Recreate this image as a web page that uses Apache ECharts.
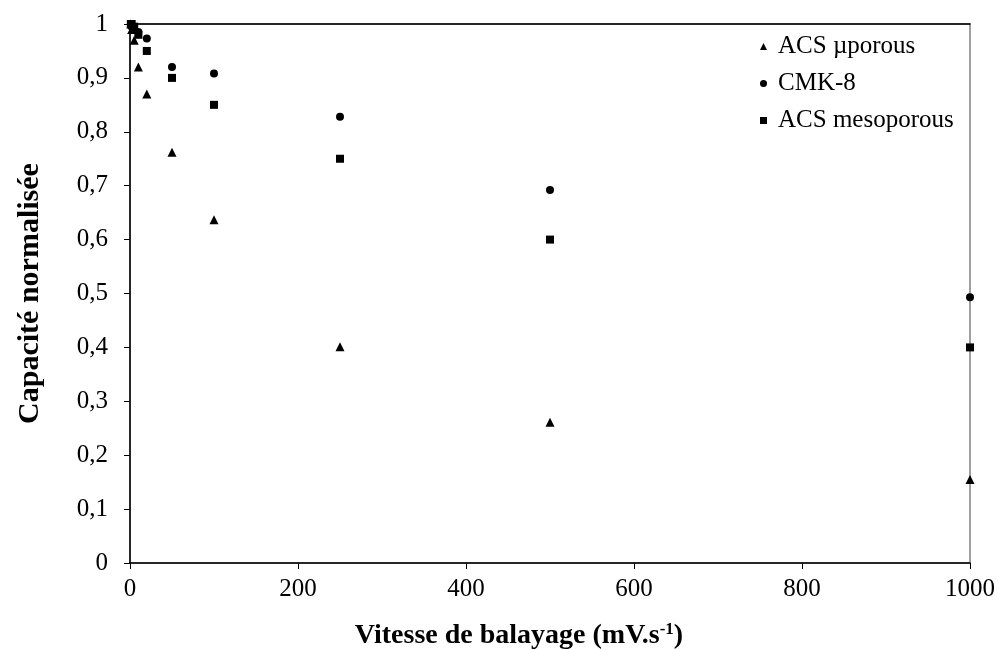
<!DOCTYPE html>
<html>
<head>
<meta charset="utf-8">
<script src="https://cdn.jsdelivr.net/npm/echarts@6/dist/echarts.min.js"></script>
<style>html,body{margin:0;padding:0;background:#fff;}#c{width:999px;height:650px;}</style>
</head>
<body>
<div id="c"></div>
<script>
const seriesNames = ['ACS \u00b5porous', 'CMK-8', 'ACS mesoporous'];
const scanRates = [1, 2, 5, 10, 20, 50, 100, 250, 500, 1000];
const acsMicro = [1.0, 0.99, 0.97, 0.92, 0.87, 0.762, 0.637, 0.401, 0.261, 0.155];
const cmk8 = [1.0, 0.995, 0.99, 0.985, 0.973, 0.92, 0.908, 0.828, 0.692, 0.493];
const acsMeso = [1.0, 1.0, 0.995, 0.98, 0.95, 0.90, 0.85, 0.75, 0.60, 0.40];
const yTicks = ['0', '0,1', '0,2', '0,3', '0,4', '0,5', '0,6', '0,7', '0,8', '0,9', '1'];
const xTicks = ['0', '200', '400', '600', '800', '1000'];

const FONT = '"Liberation Serif", "Times New Roman", serif';
const pair = (ys) => scanRates.map((x, i) => [x, ys[i]]);

const chart = echarts.init(document.getElementById('c'));
chart.setOption({
  backgroundColor: '#fff',
  animation: false,
  grid: { left: 130, right: 29, top: 24, bottom: 87, outerBoundsMode: 'none', containLabel: false, show: true, borderColor: '#808080', borderWidth: 1.5, backgroundColor: 'transparent' },
  legend: {
    orient: 'vertical',
    left: 755,
    top: 29,
    itemWidth: 7,
    itemHeight: 7,
    itemGap: 12,
    data: seriesNames,
    textStyle: { fontFamily: FONT, fontSize: 25, color: '#000', lineHeight: 25, padding: [0, 0, 0, 6] }
  },
  xAxis: [{
    type: 'value', min: 0, max: 1000, interval: 200,
    name: '{b|Vitesse de balayage (mV.s}{s|-1}{b|)}',
    nameLocation: 'middle', nameGap: 58,
    nameTextStyle: {
      padding: [0, 62, 0, 0],
      rich: {
        b: { fontFamily: FONT, fontSize: 28, fontWeight: 'bold', color: '#000' },
        s: { fontFamily: FONT, fontSize: 17, fontWeight: 'bold', color: '#000', verticalAlign: 'top', padding: [0, 0, 12, 0] }
      }
    },
    axisLine: { onZero: false, lineStyle: { color: '#000', width: 1.5 } },
    axisTick: { show: true, inside: false, length: 6, lineStyle: { color: '#000' } },
    axisLabel: { fontFamily: FONT, fontSize: 25, color: '#000', margin: 14,
      formatter: (v) => xTicks[Math.round(v / 200)] },
    splitLine: { show: false }
  }, {
    type: 'value', min: 0, max: 1000, position: 'top',
    axisLine: { show: true, onZero: false, lineStyle: { color: '#000', width: 1.5 } },
    axisTick: { show: false }, axisLabel: { show: false }, splitLine: { show: false }
  }],
  yAxis: {
    type: 'value', min: 0, max: 1, interval: 0.1,
    name: 'Capacité normalisée',
    nameLocation: 'middle', nameGap: 85,
    nameTextStyle: { fontFamily: FONT, fontSize: 30, fontWeight: 'bold', color: '#000' },
    axisLine: { show: true, onZero: false, lineStyle: { color: '#000', width: 1.5 } },
    axisTick: { show: true, inside: false, length: 6, lineStyle: { color: '#000' } },
    axisLabel: {
      fontFamily: FONT, fontSize: 25, color: '#000', margin: 22,
      formatter: (v) => yTicks[Math.round(v * 10)]
    },
    splitLine: { show: false }
  },
  series: [
    { name: seriesNames[0], type: 'scatter', symbol: 'triangle', symbolSize: 9, itemStyle: { color: '#000', opacity: 1 }, data: pair(acsMicro) },
    { name: seriesNames[1], type: 'scatter', symbol: 'circle', symbolSize: 8, itemStyle: { color: '#000', opacity: 1 }, data: pair(cmk8) },
    { name: seriesNames[2], type: 'scatter', symbol: 'rect', symbolSize: 8, itemStyle: { color: '#000', opacity: 1 }, data: pair(acsMeso) }
  ]
});
</script>
</body>
</html>
